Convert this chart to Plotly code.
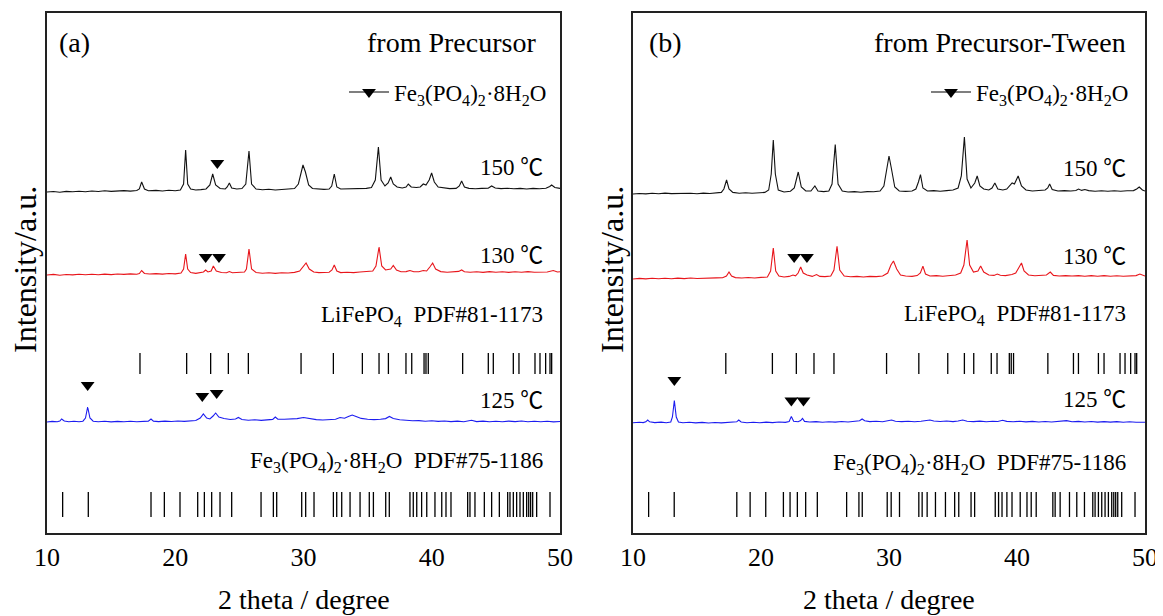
import plotly.graph_objects as go

# ---------------- data ----------------
theta_ticks = [10, 20, 30, 40, 50]

# reference stick positions (2 theta, degree)
lfp_sticks = [17.25, 20.89, 22.76, 24.14, 25.70, 29.81, 32.33, 34.59, 35.89, 36.62,
              37.99, 38.44, 39.40, 39.55, 39.73, 42.41, 44.41, 44.80, 46.36, 46.80,
              48.05, 48.44, 48.88, 49.22, 49.35]
fep_sticks = [11.22, 13.22, 18.11, 19.15, 20.37, 21.75, 22.27, 22.84, 23.49, 24.40,
              26.69, 27.65, 27.91, 29.86, 30.17, 30.82, 32.33, 32.59, 32.98, 33.63,
              34.41, 35.13, 35.45, 36.41, 36.69, 38.30, 38.56, 38.83, 39.21, 39.61,
              40.25, 40.78, 41.11, 41.50, 42.80, 42.98, 43.37, 44.10, 44.67, 45.27,
              45.92, 46.10, 46.36, 46.62, 46.88, 47.14, 47.40, 47.56, 47.71, 47.87,
              48.18, 49.22]

# (a) from Precursor : (2theta, relative intensity)
a150 = [(10.0,0),(10.5,0.5),(11.0,-0.3),(11.5,0.6),(12.0,0.2),(12.5,0.8),(13.0,0.3),(13.5,1.0),
        (14.0,0.5),(14.5,1.2),(15.0,0.6),(15.5,1.0),(16.0,1.4),(16.5,0.9),(17.0,1.5),(17.2,3),
        (17.38,10),(17.6,3),(17.9,1.2),(18.5,1.6),(19.0,1.0),(19.5,1.8),(20.0,1.3),(20.4,2.0),
        (20.65,8),(20.81,42),(20.97,8),(21.2,3),(21.6,2),(22.0,2.4),(22.4,3),(22.7,7),(22.92,18),
        (23.15,7),(23.5,3.5),(23.9,3),(24.05,5),(24.22,9),(24.4,4),(24.8,3),(25.2,3.5),(25.5,8),
        (25.75,41),(25.95,8),(26.3,3),(26.8,2.2),(27.3,2.8),(27.8,2),(28.3,2.6),(28.8,2.5),
        (29.3,3.5),(29.6,8),(29.8,20),(29.96,27),(30.15,20),(30.4,7),(30.7,3.5),(31.1,3),
        (31.6,2.6),(32.0,3),(32.2,6),(32.40,18),(32.6,5),(32.9,3),(33.4,3.2),(33.9,2.8),
        (34.4,3.2),(34.9,3.6),(35.3,4.5),(35.6,12),(35.84,45),(36.05,12),(36.35,6),(36.6,9),
        (36.80,15),(37.0,8),(37.3,5),(37.7,4),(38.0,5),(38.17,8),(38.4,5),(38.8,4.5),(39.1,5),
        (39.34,8),(39.55,7),(39.8,12),(39.99,19),(40.2,10),(40.5,5),(40.9,4),(41.4,3.4),
        (41.9,3.6),(42.15,6),(42.33,11),(42.55,5),(42.9,3.6),(43.4,3.2),(43.9,3.6),(44.4,3.8),
        (44.67,6),(44.95,4),(45.4,3.4),(45.9,3.8),(46.4,3.2),(46.9,3.6),(47.4,3.0),(47.9,3.6),
        (48.4,3.2),(48.9,3.8),(49.2,5.5),(49.35,7),(49.6,4.5),(50.0,3.6)]
a130 = [(10.0,0),(10.5,0.6),(11.0,-0.2),(11.5,0.5),(12.0,0.1),(12.5,0.7),(13.0,0.2),(13.5,0.8),
        (14.0,0.3),(14.5,0.9),(15.0,0.4),(15.5,1.0),(16.0,0.6),(16.5,1.1),(17.0,0.8),(17.2,1.5),
        (17.38,4.5),(17.6,1.5),(18.0,1.0),(18.5,1.4),(19.0,0.9),(19.5,1.5),(20.0,1.1),(20.45,2),
        (20.65,6),(20.81,21),(20.97,6),(21.2,2.5),(21.6,1.6),(22.0,2.2),(22.2,3),(22.37,5),
        (22.55,3),(22.8,4),(22.97,9),(23.2,4),(23.6,2.5),(24.0,2.2),(24.22,3.5),(24.45,2.2),
        (24.9,2.4),(25.4,3),(25.55,6),(25.75,26),(25.95,6),(26.3,2.5),(26.8,1.8),(27.3,2.3),
        (27.8,1.6),(28.3,2.2),(28.8,2),(29.3,2.6),(29.7,4),(30.0,9),(30.2,12),(30.45,6),
        (30.8,3),(31.2,2.4),(31.7,2.2),(32.0,2.8),(32.22,5),(32.4,10),(32.6,4),(32.9,2.4),
        (33.4,2.8),(33.9,2.4),(34.4,3),(34.9,3.2),(35.4,4),(35.65,9),(35.89,28),(36.1,9),
        (36.4,5),(36.8,6),(37.0,9.5),(37.25,5),(37.6,3.2),(38.0,3.4),(38.3,4.5),(38.6,3.2),
        (39.0,3.2),(39.34,4.5),(39.6,4),(39.85,8),(40.07,12),(40.3,6),(40.7,3.4),(41.2,2.8),
        (41.7,3.2),(42.1,3.6),(42.33,5),(42.55,3.2),(43.0,2.8),(43.5,3.2),(44.0,2.6),(44.5,3.4),
        (45.0,2.8),(45.5,3.2),(46.0,2.6),(46.5,3.2),(47.0,2.8),(47.5,3.4),(48.0,2.8),(48.5,3.2),
        (49.0,3.0),(49.48,4.5),(49.8,3),(50.0,3.2)]
a125 = [(10.0,0),(10.4,0.6),(10.8,0.2),(11.0,1),(11.14,3),(11.35,1),(11.7,0.3),(12.1,0.8),
        (12.5,0.2),(12.8,0.8),(13.0,4),(13.17,15),(13.35,4),(13.6,0.8),(14.0,0.2),(14.5,0.7),
        (15.0,0.1),(15.5,0.6),(16.0,0.2),(16.5,0.7),(17.0,0.3),(17.5,0.8),(17.9,0.9),(18.11,3),
        (18.3,0.9),(18.7,0.4),(19.2,0.9),(19.7,0.5),(20.2,1.0),(20.7,0.6),(21.2,1.2),(21.6,1.5),
        (21.95,4),(22.19,8),(22.45,4),(22.7,3),(22.95,6),(23.15,9),(23.4,5),(23.8,3.5),(24.3,2.5),
        (24.7,3),(24.92,4.5),(25.2,2.5),(25.7,1.8),(26.2,2.2),(26.7,1.6),(27.2,2.2),(27.6,2.6),
        (27.8,5),(28.0,2.8),(28.5,2.8),(29.0,3),(29.5,3.4),(30.0,4.5),(30.5,3.4),(31.0,2.4),
        (31.5,2),(32.0,2.4),(32.5,2.8),(32.85,4.5),(33.2,3.8),(33.5,5.5),(33.8,7),(34.1,5.5),
        (34.5,3.6),(35.0,2.8),(35.5,2.4),(36.0,2.8),(36.4,3.4),(36.7,5.5),(37.0,3.4),(37.5,2.2),
        (38.0,1.6),(38.5,1.2),(39.0,1.4),(39.5,0.8),(40.0,1.2),(40.5,0.6),(41.0,1.0),(41.5,0.4),
        (42.0,0.9),(42.5,0.3),(43.1,1.8),(43.5,0.4),(44.0,0.9),(44.5,0.2),(45.0,0.8),(45.5,0.3),
        (46.0,0.9),(46.5,0.4),(47.0,1.0),(47.5,0.3),(48.0,0.8),(48.5,0.2),(49.0,0.7),(49.5,0.1),
        (50.0,0.5)]

# (b) from Precursor-Tween
b150 = [(10.0,0),(10.5,0.5),(11.0,0.1),(11.5,0.8),(12.0,0.3),(12.5,0.9),(13.0,0.4),(13.5,0.6),
        (14.0,0.2),(14.5,0.7),(15.0,0.3),(15.5,0.9),(16.0,0.5),(16.5,1.0),(16.9,1.6),(17.1,5),
        (17.31,14),(17.5,5),(17.8,1.6),(18.3,0.8),(18.8,1.2),(19.3,0.7),(19.8,1.3),(20.3,1.6),
        (20.6,4),(20.8,20),(20.96,54),(21.12,20),(21.35,4),(21.8,2),(22.3,2.8),(22.6,6),(22.91,22),
        (23.15,7),(23.5,3),(23.9,3),(24.21,8),(24.45,3),(24.9,2.4),(25.3,3),(25.55,10),(25.80,49.5),
        (26.02,10),(26.35,3),(26.8,2),(27.3,2.4),(27.8,1.8),(28.3,2.4),(28.8,2.2),(29.3,3),(29.6,8),
        (29.85,28),(30.0,38),(30.18,26),(30.45,7),(30.8,3),(31.3,2.6),(31.8,3),(32.1,5),(32.3,12),
        (32.46,19.4),(32.65,6),(33.0,3),(33.5,3.4),(34.0,2.8),(34.5,3.4),(35.0,4),(35.4,6),
        (35.65,18),(35.89,57),(36.1,15),(36.4,6),(36.7,11),(36.89,18),(37.1,8),(37.4,5),(37.8,4),
        (38.05,6),(38.27,11),(38.5,5),(38.9,4),(39.2,5),(39.5,9),(39.62,11),(39.8,10),(40.09,18),
        (40.35,8),(40.7,4),(41.2,3),(41.7,3.4),(42.2,4),(42.4,6),(42.55,10),(42.75,4.5),(43.2,3),
        (43.7,3.4),(44.2,3),(44.6,3.5),(44.81,5),(45.05,3.6),(45.3,4.5),(45.6,3.4),(46.1,2.8),
        (46.6,3.2),(47.1,2.8),(47.6,3.2),(48.1,2.8),(48.6,3.2),(49.1,3.4),(49.35,5),(49.55,7),
        (49.8,4),(50.0,3)]
b130 = [(10.0,0),(10.5,0.6),(11.0,0.1),(11.5,0.7),(12.0,0.2),(12.5,0.8),(13.0,0.3),(13.5,0.9),
        (14.0,0.4),(14.5,1.0),(15.0,0.5),(15.5,0.9),(16.0,0.6),(16.5,1.1),(17.0,1.2),(17.3,3),
        (17.5,7),(17.7,3),(18.0,1.4),(18.5,1.0),(19.0,1.5),(19.5,1.0),(20.0,1.6),(20.5,2),
        (20.75,8),(20.96,31),(21.15,8),(21.4,3),(21.8,2),(22.2,2.6),(22.5,4),(22.7,3.2),(22.9,6),
        (23.1,12),(23.3,6),(23.6,4),(24.0,2.6),(24.34,4.5),(24.6,2.6),(25.0,2.4),(25.45,3),
        (25.7,9),(25.94,32.8),(26.15,9),(26.5,3),(27.0,2.2),(27.5,2.6),(28.0,2),(28.5,2.6),
        (29.0,2.4),(29.5,3),(29.9,6),(30.15,14),(30.35,18),(30.6,10),(30.9,4),(31.3,3),(31.8,2.6),
        (32.2,3.4),(32.45,6),(32.65,12.8),(32.85,5),(33.2,3),(33.7,3.4),(34.2,2.8),(34.7,3.4),
        (35.2,4),(35.6,6),(35.85,14),(36.1,39),(36.3,14),(36.6,7),(36.95,8),(37.16,13),(37.4,7),
        (37.8,4),(38.2,3.6),(38.46,5),(38.7,3.8),(39.1,3.4),(39.6,4.5),(39.9,6),(40.15,12),
        (40.35,16),(40.55,8),(40.9,4),(41.4,3.2),(41.9,3.4),(42.3,4),(42.6,7),(42.85,3.6),(43.3,3),
        (43.8,3.4),(44.3,3),(44.8,3.4),(45.3,2.8),(45.8,3.4),(46.3,2.8),(46.8,3.4),(47.3,2.8),
        (47.8,3.2),(48.3,2.8),(48.8,3.2),(49.3,3.4),(49.6,5),(49.85,3.4),(50.0,3)]
b125 = [(10.0,0.2),(10.5,0.8),(10.8,0.4),(11.0,1.2),(11.15,3),(11.3,1.2),(11.7,0.4),(12.2,0.9),
        (12.6,0.3),(12.95,1.0),(13.08,6),(13.23,22.5),(13.38,6),(13.55,1),(13.9,0.2),(14.4,0.7),
        (14.9,0.1),(15.4,0.6),(15.9,0.0),(16.4,0.5),(16.9,0.1),(17.4,0.6),(17.9,0.4),(18.1,1.2),
        (18.26,3),(18.45,1.0),(18.9,0.3),(19.4,0.8),(19.9,0.2),(20.4,0.9),(20.9,0.4),(21.4,1.0),
        (21.9,0.6),(22.2,1.5),(22.37,6.6),(22.55,1.8),(22.9,1.2),(23.1,2.5),(23.24,4.5),(23.4,1.6),
        (23.8,1.0),(24.3,1.4),(24.8,0.8),(25.3,1.3),(25.8,0.9),(26.3,1.5),(26.8,1.0),(27.3,1.6),
        (27.7,2.2),(27.9,4),(28.1,2.2),(28.5,1.4),(29.0,1.8),(29.5,1.2),(29.9,2.0),(30.2,3),
        (30.5,1.8),(31.0,1.4),(31.5,1.8),(32.0,1.3),(32.5,1.8),(32.9,2.2),(33.2,3),(33.5,2.0),
        (34.0,1.5),(34.5,2.0),(35.0,1.4),(35.4,2.0),(35.76,3),(36.1,1.8),(36.6,1.4),(37.1,1.9),
        (37.6,1.3),(38.1,1.8),(38.5,1.5),(38.87,2.8),(39.2,1.6),(39.7,1.2),(40.2,1.7),(40.7,1.1),
        (41.2,1.6),(41.7,1.0),(42.2,1.5),(42.7,1.0),(43.2,1.6),(43.87,2.4),(44.3,1.2),(44.8,1.6),
        (45.3,1.0),(45.8,1.5),(46.3,0.9),(46.8,1.4),(47.3,0.9),(47.8,1.4),(48.3,0.8),(48.8,1.3),
        (49.3,0.8),(49.7,1.2),(50.0,0.8)]

# Fe3(PO4)2.8H2O peak markers: (2theta, height above the curve baseline)
a150_marks = [(23.28, 29)]
a130_marks = [(22.37, 18), (23.41, 18)]
a125_marks = [(13.17, 37), (22.11, 26), (23.23, 29)]
b130_marks = [(22.59, 22), (23.59, 22)]
b125_marks = [(13.23, 43), (22.37, 22.5), (23.32, 22.5)]

temps = ["150 \u2103", "130 \u2103", "125 \u2103"]

# ---------------- layout constants ----------------
FONT = "Liberation Serif"
LABEL_FONT = "Liberation Serif, Noto Sans CJK SC"
BLACK, RED, BLUE = "#111111", "#e8151b", "#1c1cf0"
Y_RANGE = [0, 520]
offsets_a = {"150": 341, "130": 258, "125": 111}
offsets_b = {"150": 339, "130": 254, "125": 110}
LFP_BASE, LFP_H = 159, 21
FEP_BASE, FEP_H = 16, 25

W, H = 1163, 616
PAGE_OFF = 8          # the page's default body margin shifts the plot by 8 px


def px(x):
    """horizontal pixel position in the final page -> paper fraction"""
    return (x - PAGE_OFF) / W


fig = go.Figure()


def add_curve(pts, offset, color, xa, ya):
    fig.add_trace(go.Scatter(x=[p[0] for p in pts], y=[p[1] + offset for p in pts],
                             mode="lines", line=dict(color=color, width=1.1),
                             xaxis=xa, yaxis=ya, showlegend=False, hoverinfo="skip"))


def add_marks(marks, offset, xa, ya):
    fig.add_trace(go.Scatter(x=[m[0] for m in marks], y=[m[1] + offset for m in marks],
                             mode="markers",
                             marker=dict(symbol="triangle-down", size=12, color="black"),
                             xaxis=xa, yaxis=ya, showlegend=False, hoverinfo="skip"))


def add_sticks(pos, base, h, xa, ya):
    xs, ys = [], []
    for p in pos:
        xs += [p, p, None]
        ys += [base, base + h, None]
    fig.add_trace(go.Scatter(x=xs, y=ys, mode="lines", line=dict(color="black", width=1.3),
                             xaxis=xa, yaxis=ya, showlegend=False, hoverinfo="skip"))


for (xa, ya, offs, c150, c130, c125, m150, m130, m125) in [
        ("x", "y", offsets_a, a150, a130, a125, a150_marks, a130_marks, a125_marks),
        ("x2", "y2", offsets_b, b150, b130, b125, [], b130_marks, b125_marks)]:
    add_curve(c150, offs["150"], BLACK, xa, ya)
    add_curve(c130, offs["130"], RED, xa, ya)
    add_curve(c125, offs["125"], BLUE, xa, ya)
    add_sticks(lfp_sticks, LFP_BASE, LFP_H, xa, ya)
    add_sticks(fep_sticks, FEP_BASE, FEP_H, xa, ya)
    for m, key in [(m150, "150"), (m130, "130"), (m125, "125")]:
        if m:
            add_marks(m, offs[key], xa, ya)

legend_name = "Fe<sub>3</sub>(PO<sub>4</sub>)<sub>2</sub>\u00b78H<sub>2</sub>O"
for xa, ya, lg in [("x", "y", "legend"), ("x2", "y2", "legend2")]:
    fig.add_trace(go.Scatter(x=[None], y=[None], mode="lines+markers", name=legend_name,
                             line=dict(color="black", width=1.2),
                             marker=dict(symbol="triangle-down", size=12, color="black"),
                             xaxis=xa, yaxis=ya, legend=lg, showlegend=True))

axis_common = dict(range=[10, 50], tickvals=theta_ticks, ticks="", showgrid=False,
                   zeroline=False, showline=True, mirror=True, linecolor="#222",
                   linewidth=1.8, tickfont=dict(family=FONT, size=26, color="black"),
                   ticklabelstandoff=0, automargin=False)
yaxis_common = dict(range=Y_RANGE, showticklabels=False, ticks="", showgrid=False,
                    zeroline=False, showline=True, mirror=True, linecolor="#222",
                    linewidth=1.8, domain=[0, 1], automargin=False)

legend_common = dict(font=dict(family=FONT, size=23, color="black"), bgcolor="rgba(0,0,0,0)",
                     xanchor="right", yanchor="middle", y=0.848, itemwidth=40)

fig.update_layout(
    width=W, height=H,
    margin=dict(l=0, r=0, t=13 - PAGE_OFF, b=H - 533 + PAGE_OFF, autoexpand=False),
    paper_bgcolor="white", plot_bgcolor="white",
    xaxis=dict(domain=[px(47), px(560)], anchor="y", **axis_common),
    xaxis2=dict(domain=[px(633), px(1145)], anchor="y2", **axis_common),
    yaxis=dict(anchor="x", **yaxis_common),
    yaxis2=dict(anchor="x2", **yaxis_common),
    legend=dict(x=px(552), **legend_common),
    legend2=dict(x=px(1134), **legend_common),
)

anns = []


def txt(text, x, y, xref, yref, size, xanchor="right", family=LABEL_FONT):
    anns.append(dict(text=text, x=x, y=y, xref=xref, yref=yref, xanchor=xanchor,
                     yanchor="middle", showarrow=False,
                     font=dict(family=family, size=size, color="black")))


lfp_label = "LiFePO<sub>4</sub>  PDF#81-1173"
fep_label = "Fe<sub>3</sub>(PO<sub>4</sub>)<sub>2</sub>\u00b78H<sub>2</sub>O  PDF#75-1186"

# panel (a)
txt("(a)", 10.75, 491, "x", "y", 28, "left", FONT)
txt("from Precursor", 48.3, 491, "x", "y", 28, family=FONT)
txt(temps[0], 48.85, 366, "x", "y", 23)
txt(temps[1], 48.85, 278, "x", "y", 23)
txt(lfp_label, 48.85, 217, "x", "y", 23, family=FONT)
txt(temps[2], 48.85, 133, "x", "y", 23)
txt(fep_label, 48.85, 71, "x", "y", 23, family=FONT)
# panel (b)
txt("(b)", 11.1, 491, "x2", "y2", 28, "left", FONT)
txt("from Precursor-Tween", 48.65, 491, "x2", "y2", 28, family=FONT)
txt(temps[0], 48.65, 365, "x2", "y2", 23)
txt(temps[1], 48.65, 277, "x2", "y2", 23)
txt(lfp_label, 48.65, 218, "x2", "y2", 23, family=FONT)
txt(temps[2], 48.65, 134, "x2", "y2", 23)
txt(fep_label, 48.65, 69, "x2", "y2", 23, family=FONT)
# axis titles
for xr in ["x domain", "x2 domain"]:
    anns.append(dict(text="2 theta / degree", x=0.5, y=-0.128, xref=xr, yref="paper",
                     xanchor="center", yanchor="middle", showarrow=False,
                     font=dict(family=FONT, size=28, color="black")))
for xp in [px(25), px(612)]:
    anns.append(dict(text="Intensity/a.u.", x=xp, y=0.506, xref="paper", yref="paper",
                     xanchor="center", yanchor="middle", showarrow=False, textangle=-90,
                     font=dict(family=FONT, size=32, color="black")))

fig.update_layout(annotations=anns)
fig.write_html("out.html")
